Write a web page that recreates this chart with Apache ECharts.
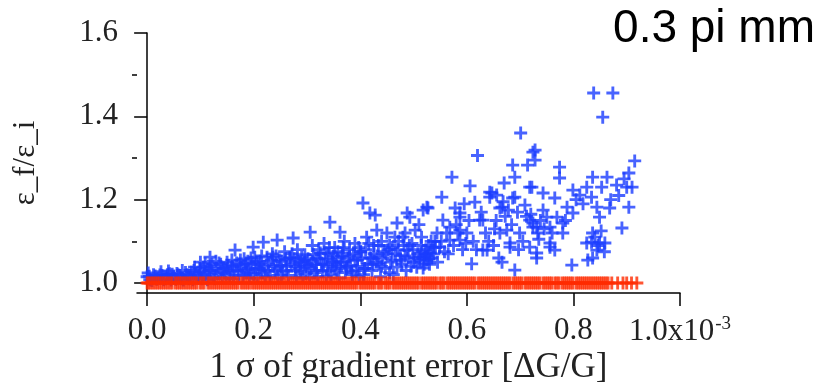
<!DOCTYPE html>
<html>
<head>
<meta charset="utf-8">
<script src="https://cdn.jsdelivr.net/npm/echarts@6/dist/echarts.min.js"></script>
<style>
html,body{margin:0;padding:0;background:#fff;}
#chart{width:825px;height:383px;}
</style>
</head>
<body>
<div id="chart"></div>
<script>
// x in units of 1e-3 (gradient error), y = emittance ratio
var blueX = [
  0.000,0.005,0.012,0.020,0.028,0.035,0.042,0.050,0.058,0.065,0.072,0.080,0.088,0.095,0.100,0.100,
  0.108,0.115,0.118,0.125,0.130,0.138,0.145,0.150,0.155,0.160,0.165,0.170,0.175,0.180,0.185,0.190,0.195,0.199,0.200,0.205,
  0.210,0.215,0.218,0.222,0.228,0.235,0.240,0.244,0.248,0.252,0.258,0.262,0.268,0.274,0.278,0.282,0.288,0.292,0.296,0.300,
  0.306,0.310,0.314,0.318,0.322,0.327,0.332,0.336,0.340,0.343,0.348,0.352,0.356,0.362,0.366,0.370,0.375,0.380,0.385,0.390,0.395,0.400,
  0.405,0.408,0.412,0.418,0.420,0.425,0.428,0.431,0.435,0.440,0.445,0.450,0.455,0.460,0.465,0.469,0.469,0.475,0.480,0.484,0.488,0.488,0.493,0.497,0.500,0.503,0.506,
  0.512,0.512,0.518,0.518,0.525,0.527,0.531,0.536,0.525,0.544,0.549,0.553,0.555,0.568,0.568,0.572,0.578,0.587,0.587,0.587,0.587,0.600,0.520,0.522,0.528,0.534,0.540,0.515,0.510,0.545,0.558,0.562,0.575,0.580,0.592,0.595,
  0.606,0.609,0.615,0.620,0.624,0.630,0.630,0.638,0.643,0.647,0.662,0.662,0.666,0.666,0.675,0.681,0.681,0.686,0.686,0.690,0.690,0.690,0.699,0.612,0.635,0.650,0.655,0.670,0.695,0.643,0.656,0.668,0.678,
  0.701,0.709,0.714,0.718,0.718,0.718,0.722,0.724,0.724,0.724,0.728,0.728,0.731,0.731,0.731,0.733,0.743,0.743,0.750,0.756,0.756,0.756,0.765,0.765,0.769,0.774,0.774,0.780,0.780,0.788,0.797,0.799,0.799,0.720,0.735,0.738,0.745,
  0.812,0.825,0.825,0.827,0.834,0.834,0.836,0.836,0.836,0.838,0.844,0.844,0.849,0.849,0.853,0.855,0.859,0.863,0.868,0.874,0.881,0.891,0.900,0.904,0.904,0.915,0.840,0.852,0.846,0.858
];
var blueY = [
  1.015,1.008,1.020,1.012,1.018,1.010,1.022,1.015,1.020,1.010,1.025,1.018,1.030,1.012,1.028,1.050,
  1.020,1.040,1.062,1.015,1.035,1.045,1.025,1.050,1.012,1.040,1.079,1.030,1.055,1.018,1.045,1.035,1.060,1.086,1.020,1.050,
  1.035,1.065,1.098,1.015,1.045,1.070,1.028,1.103,1.055,1.020,1.075,1.040,1.060,1.108,1.030,1.080,1.050,1.015,1.068,1.040,
  1.122,1.090,1.025,1.060,1.080,1.045,1.095,1.015,1.070,1.146,1.050,1.085,1.030,1.122,1.065,1.100,1.040,1.080,1.020,1.095,1.055,1.075,
  1.192,1.035,1.110,1.168,1.060,1.090,1.163,1.127,1.045,1.100,1.075,1.120,1.025,1.085,1.110,1.144,1.038,1.065,1.110,1.120,1.079,1.168,1.158,1.095,1.050,1.127,1.038,
  1.062,1.055,1.036,1.175,1.055,1.180,1.072,1.086,1.182,1.120,1.086,1.206,1.151,1.103,1.134,1.254,1.180,1.168,1.127,1.103,1.158,1.120,1.045,1.070,1.090,1.060,1.100,1.110,1.140,1.050,1.075,1.120,1.090,1.140,1.080,1.190,
  1.233,1.046,1.194,1.306,1.151,1.079,1.151,1.079,1.206,1.216,1.180,1.120,1.182,1.050,1.127,1.096,1.086,1.283,1.204,1.254,1.206,1.031,1.120,1.100,1.120,1.090,1.150,1.240,1.170,1.218,1.211,1.195,1.175,
  1.360,1.187,1.283,1.151,1.230,1.086,1.230,1.314,1.144,1.134,1.319,1.295,1.072,1.060,1.134,1.120,1.216,1.175,1.158,1.134,1.096,1.086,1.204,1.079,1.158,1.278,1.252,1.144,1.120,1.182,1.043,1.223,1.168,1.165,1.105,1.150,1.130,
  1.211,1.230,1.096,1.055,1.206,1.098,1.254,1.120,1.060,1.456,1.182,1.079,1.158,1.096,1.230,1.398,1.096,1.254,1.180,1.456,1.235,1.132,1.230,1.264,1.182,1.293,1.110,1.125,1.090,1.075
];
// the crowded band of blue points just above 1.0
var blueBandPts = [
  [0.004,1.016],[0.009,1.006],[0.015,1.017],[0.018,1.009],[0.024,1.019],[0.031,1.008],[0.038,1.020],[0.045,1.007],[0.047,1.021],[0.054,1.009],
  [0.056,1.023],[0.062,1.018],[0.068,1.007],[0.075,1.020],[0.078,1.010],[0.083,1.026],[0.086,1.008],[0.091,1.024],[0.097,1.018],[0.099,1.035],
  [0.103,1.010],[0.106,1.038],[0.111,1.025],[0.113,1.008],[0.120,1.030],[0.122,1.045],[0.127,1.010],[0.133,1.022],[0.135,1.048],[0.141,1.012],
  [0.143,1.035],[0.148,1.020],[0.152,1.042],[0.157,1.028],[0.162,1.010],[0.168,1.048],[0.172,1.018],[0.177,1.038],[0.182,1.058],[0.187,1.025],
  [0.192,1.012],[0.197,1.045],[0.202,1.062],[0.203,1.032],[0.207,1.012],[0.212,1.052],[0.216,1.025],[0.220,1.040],[0.225,1.062],[0.231,1.018],
  [0.233,1.055],[0.238,1.040],[0.242,1.065],[0.246,1.012],[0.250,1.042],[0.255,1.030],[0.260,1.058],[0.265,1.018],[0.270,1.045],[0.272,1.070],
  [0.276,1.058],[0.280,1.012],[0.285,1.035],[0.290,1.062],[0.294,1.045],[0.298,1.022],[0.302,1.058],[0.305,1.012],[0.308,1.035],[0.312,1.068],
  [0.316,1.045],[0.320,1.015],[0.325,1.072],[0.329,1.030],[0.334,1.058],[0.338,1.040],[0.342,1.085],[0.345,1.020],[0.350,1.065],[0.354,1.045],
  [0.358,1.075],[0.360,1.012],[0.364,1.050],[0.368,1.085],[0.372,1.025],[0.377,1.060],[0.382,1.042],[0.387,1.070],[0.392,1.030],[0.397,1.085],
  [0.398,1.015],[0.403,1.060],[0.406,1.020],[0.410,1.080],[0.414,1.045],[0.416,1.095],[0.422,1.030],[0.426,1.070],[0.430,1.050],[0.434,1.090],
  [0.438,1.015],[0.442,1.060],[0.447,1.035],[0.452,1.080],[0.457,1.050],[0.462,1.020],[0.466,1.070],[0.472,1.100],[0.478,1.045],[0.482,1.090],
  [0.486,1.030],[0.490,1.060],[0.495,1.040],[0.499,1.080],[0.508,1.070],[0.514,1.090],[0.520,1.060],[0.523,1.080],[0.526,1.065],[0.530,1.045],
  [0.533,1.100],[0.538,1.070],[0.516,1.075],[0.529,1.058],[0.541,1.085],[0.552,1.100],[0.565,1.070],[0.583,1.120],[0.598,1.095],[0.604,1.150],
  [0.618,1.080],[0.627,1.170],[0.641,1.100],[0.652,1.130],[0.660,1.060],[0.672,1.160],[0.684,1.140],[0.697,1.080],[0.705,1.100],[0.712,1.160],
  [0.760,1.120],[0.785,1.150],[0.805,1.200],[0.818,1.190],[0.870,1.200],[0.885,1.210],[0.895,1.250],[0.910,1.230],
  [0.002,1.024],[0.026,1.027],[0.040,1.029],[0.066,1.030],[0.089,1.038],[0.109,1.046],[0.117,1.030],[0.129,1.052],[0.139,1.028],[0.150,1.035],
  [0.159,1.055],[0.164,1.030],[0.174,1.045],[0.184,1.032],[0.189,1.052],[0.194,1.025],[0.209,1.045],[0.214,1.032],[0.227,1.030],[0.236,1.062],
  [0.244,1.035],[0.253,1.052],[0.262,1.028],[0.268,1.060],[0.278,1.040],[0.283,1.052],[0.288,1.028],[0.296,1.055],[0.304,1.042],[0.310,1.052],
  [0.318,1.030],[0.323,1.058],[0.331,1.045],[0.336,1.072],[0.340,1.028],[0.347,1.052],[0.352,1.035],[0.356,1.060],[0.362,1.040],[0.366,1.072],
  [0.370,1.050],[0.374,1.035],[0.380,1.065],[0.384,1.028],[0.390,1.055],[0.395,1.040],[0.401,1.075],[0.409,1.035],[0.418,1.060],[0.424,1.045],
  [0.432,1.065],[0.440,1.040],[0.448,1.070],[0.455,1.090],[0.460,1.055],[0.470,1.080],[0.476,1.055],[0.484,1.065],[0.492,1.090],[0.502,1.060]
];
var redX = [
  0.000,0.003,0.007,0.011,0.015,0.019,0.023,0.027,0.031,0.035,0.039,0.043,0.047,0.053,0.057,0.061,0.065,0.069,0.073,0.077,
  0.081,0.085,0.089,0.093,0.099,0.103,0.107,0.114,0.118,0.122,0.126,0.130,0.134,0.138,0.142,0.146,0.150,0.154,0.158,0.162,
  0.166,0.170,0.176,0.180,0.184,0.188,0.192,0.197,0.201,0.205,0.209,0.213,0.217,0.221,0.225,0.229,0.233,0.237,0.241,0.245,
  0.249,0.253,0.257,0.261,0.265,0.269,0.273,0.277,0.281,0.285,0.289,0.293,0.297,0.301,0.305,0.309,0.313,0.317,0.321,0.325,
  0.329,0.333,0.337,0.341,0.345,0.349,0.353,0.357,0.361,0.365,0.369,0.373,0.377,0.381,0.385,0.389,0.393,0.399,0.403,0.407,
  0.411,0.415,0.419,0.423,0.427,0.433,0.437,0.441,0.447,0.451,0.455,0.461,0.465,0.469,0.473,0.477,0.481,0.485,0.489,0.493,
  0.497,0.501,0.505,0.509,0.515,0.519,0.523,0.527,0.531,0.535,0.539,0.543,0.549,0.553,0.557,0.563,0.567,0.571,0.575,0.579,
  0.583,0.587,0.591,0.595,0.599,0.603,0.607,0.611,0.615,0.621,0.625,0.629,0.633,0.637,0.641,0.645,0.649,0.653,0.657,0.661,
  0.665,0.669,0.673,0.677,0.681,0.687,0.691,0.695,0.699,0.703,0.709,0.713,0.717,0.721,0.725,0.729,0.733,0.737,0.743,0.747,
  0.751,0.755,0.759,0.765,0.769,0.773,0.779,0.783,0.787,0.791,0.795,0.799,0.805,0.809,0.813,0.817,0.821,0.825,0.829,0.833,
  0.837,0.841,0.845,0.849,0.853,0.857,0.861,0.865,0.872,0.883,0.893,0.900,0.909,0.919
];
var redY = 1.0;
var xTicks = [0, 0.2, 0.4, 0.6, 0.8, 1.0];
var yTicks = [1.0, 1.2, 1.4, 1.6];
var yMinorTicks = [1.1, 1.3, 1.5];

var PLUS = 'path://M-2.2,-10L2.2,-10L2.2,-2.2L10,-2.2L10,2.2L2.2,2.2L2.2,10L-2.2,10L-2.2,2.2L-10,2.2L-10,-2.2L-2.2,-2.2Z';
var SERIF = '"Liberation Serif","DejaVu Serif",serif';

function pairs(xs, ys){
    var out = [];
    for (var i = 0; i < xs.length; i++) {
        out.push([xs[i], Array.isArray(ys) ? ys[i] : ys]);
    }
    return out;
}

var chart = echarts.init(document.getElementById('chart'));
var option = {
    animation: false,
    backgroundColor: '#fff',
    title: {
        text: '0.3 pi mm',
        right: 5,
        top: 1,
        textStyle: {fontFamily: '"Liberation Sans",Arial,sans-serif', fontSize: 46, fontWeight: 'normal', color: '#000'}
    },
    grid: {left: 137, right: 145, top: 33, bottom: 90, outerBoundsMode: 'none'},
    xAxis: {
        type: 'value',
        min: -0.019,
        max: 1.0,
        name: '1 σ of gradient error [ΔG/G]',
        nameLocation: 'middle',
        nameGap: 57,
        nameMoveOverlap: false,
        nameTextStyle: {fontFamily: SERIF, fontSize: 35, color: '#222'},
        axisLine: {onZero: false, lineStyle: {color: '#000', width: 1.5}},
        axisTick: {show: true, length: 13, customValues: xTicks, lineStyle: {color: '#000', width: 1.5}},
        axisLabel: {
            customValues: xTicks,
            margin: 22,
            fontFamily: SERIF,
            fontSize: 31,
            color: '#222',
            formatter: function(v){
                if (v >= 0.999) return '{b|1.0x10}{sup|-3}';
                return v.toFixed(1);
            },
            rich: {
                b: {fontFamily: SERIF, fontSize: 31, color: '#222', lineHeight: 34},
                sup: {fontFamily: SERIF, fontSize: 19, color: '#222', lineHeight: 34, verticalAlign: 'top', padding: [0, 0, 18, 1]}
            }
        },
        splitLine: {show: false}
    },
    yAxis: [{
        type: 'value',
        min: 0.976,
        max: 1.6,
        name: 'ε_f/ε_i',
        nameLocation: 'middle',
        nameGap: 96,
        nameMoveOverlap: false,
        nameTextStyle: {fontFamily: SERIF, fontSize: 31, color: '#222'},
        axisLine: {lineStyle: {color: '#000', width: 1.5}},
        axisTick: {show: true, length: 13, customValues: yTicks, lineStyle: {color: '#000', width: 1.5}},
        axisLabel: {
            customValues: yTicks,
            margin: 19,
            fontFamily: SERIF,
            fontSize: 31,
            color: '#222',
            formatter: function(v){ return v.toFixed(1); }
        },
        splitLine: {show: false}
    }, {
        type: 'value',
        position: 'left',
        min: 0.976,
        max: 1.6,
        axisLine: {show: false},
        axisTick: {show: true, length: 5, customValues: yMinorTicks, lineStyle: {color: '#000', width: 1.5}},
        axisLabel: {show: false},
        splitLine: {show: false}
    }],
    series: [{
        name: 'blue',
        type: 'scatter',
        symbol: PLUS,
        symbolSize: 13,
        itemStyle: {color: '#1a3cff'},
        data: pairs(blueX, blueY).concat(blueBandPts)
    }, {
        name: 'red',
        type: 'scatter',
        symbol: PLUS,
        symbolSize: 13,
        itemStyle: {color: '#ff2a00'},
        data: pairs(redX, redY)
    }]
};
chart.setOption(option);
</script>
</body>
</html>
